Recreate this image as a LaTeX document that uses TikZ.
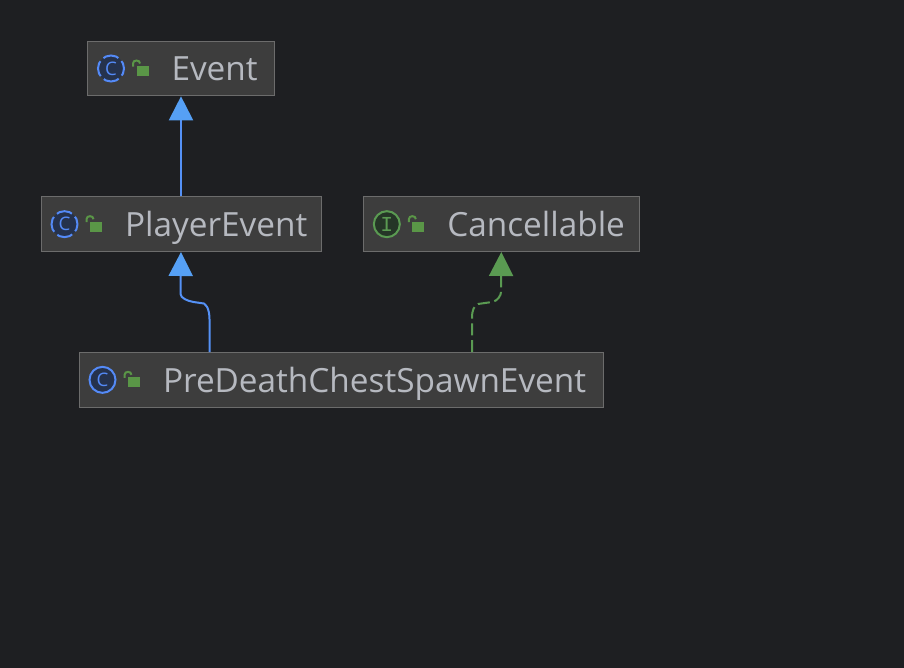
\documentclass[tikz,border=0pt]{standalone}
\usepackage{xcolor}
\usepackage{fontspec}
\setmainfont{Open Sans}
\setmonofont{Liberation Mono}
\usetikzlibrary{arrows.meta, positioning}
\definecolor{canvas}{HTML}{1E1F22}
\definecolor{boxfill}{HTML}{3D3D3D}
\definecolor{boxline}{HTML}{6C6C6C}
\definecolor{boxtext}{HTML}{B6B9C0}
\definecolor{classblue}{HTML}{548AF7}
\definecolor{classfill}{HTML}{25324D}
\definecolor{tipblue}{HTML}{56A0F5}
\definecolor{ifacegreen}{HTML}{5A9A52}
\definecolor{ifacefill}{HTML}{253627}
\definecolor{lockgreen}{HTML}{5A9647}

\begin{document}
\begin{tikzpicture}[
	  x=0.75pt, y=-0.75pt,
	  node distance=75pt and 31pt,
	  box/.style={
	    draw=boxline,
	    fill=boxfill,
	    line width=0.75pt,
	    text=boxtext,
	    font=\fontsize{25}{28}\selectfont,
	    text width=#1,
	    inner xsep=0pt,
	    inner ysep=0pt,
	    align=left,
	    text height=23.2pt,
	    text depth=4.8pt,
	    minimum height=41pt,
	    execute at begin node={\hspace*{63pt}}
	  },
	  classicon/.style={
	    circle,
	    draw=classblue,
	    fill=classfill,
	    line width=1.5pt,
	    text=classblue,
	    inner sep=0pt,
	    minimum size=19.5pt,
	    font=\fontsize{14}{14}\selectfont
	  },
	  abstracticon/.style={classicon,dash pattern=on 12pt off 3.3pt,dash phase=6pt},
	  ifaceicon/.style={classicon,draw=ifacegreen,fill=ifacefill,text=ifacegreen,font=\ttfamily\fontsize{16}{16}\selectfont},
	  extendsarrow/.style={line width=1.5pt,draw=classblue!70!tipblue,arrows={-{Triangle[length=18pt,width=18pt,color=tipblue]}}},
	  implementsarrow/.style={-{Triangle[length=18pt,width=18pt]},line width=1.5pt,draw=ifacegreen,dash pattern=on 9pt off 3.5pt},
	  lockicon/.pic={
	    \fill[lockgreen] (49.5,-2.5) rectangle (61.5,7.5);
	    \draw[lockgreen,line width=1.5pt] (46,-2) -- (46,-5) .. controls (46,-9) and (53,-9) .. (53,-5);
	  }
	]
	
	\fill[canvas] (0,0) rectangle (904,668);
	\useasboundingbox (0,0) rectangle (904,668);
	
	\node[box=140.25pt] (event) at (181,68.5) {Event};
	\node[box=210pt,below=of event] (playerevent) {PlayerEvent};
	\node[box=207pt,right=of playerevent] (cancellable) {Cancellable};
	\node[box=393pt,below=of playerevent, xshift=120pt] (predeath) {PreDeathChestSpawnEvent};
	
	\node[abstracticon] (eventicon) at ([xshift=18pt]event.west) {C};
	\node[abstracticon] (playericon) at ([xshift=18pt]playerevent.west) {C};
	\node[ifaceicon] (cancelicon) at ([xshift=18pt]cancellable.west) {I};
	\node[classicon] (predeathicon) at ([xshift=18pt]predeath.west) {C};
	
	\pic at (event.west) {lockicon};
	\pic at (playerevent.west) {lockicon};
	\pic at (cancellable.west) {lockicon};
	\pic at (predeath.west) {lockicon};
	
	\draw[extendsarrow] (playerevent.north) -- (event.south);
	\draw[extendsarrow] ([xshift=-98.6pt]predeath.north) -- ++(0,-32) .. controls ++(0,-12) and ++(5,-1) .. ++(-9,-17) -- ++(-7,-1) .. controls ++(-6,-1) and ++(0,4) .. ++(-13,-8) -- (playerevent.south);
	\draw[implementsarrow] ([xshift=98.25pt]predeath.north) -- ++(0,-34) .. controls ++(0,-8) and ++(-4,2) .. ++(6,-14) -- ++(14,-2) .. controls ++(6,-1) and ++(0,3) .. ++(9,-10) -- (cancellable.south);
	
	\end{tikzpicture}
\end{document}
